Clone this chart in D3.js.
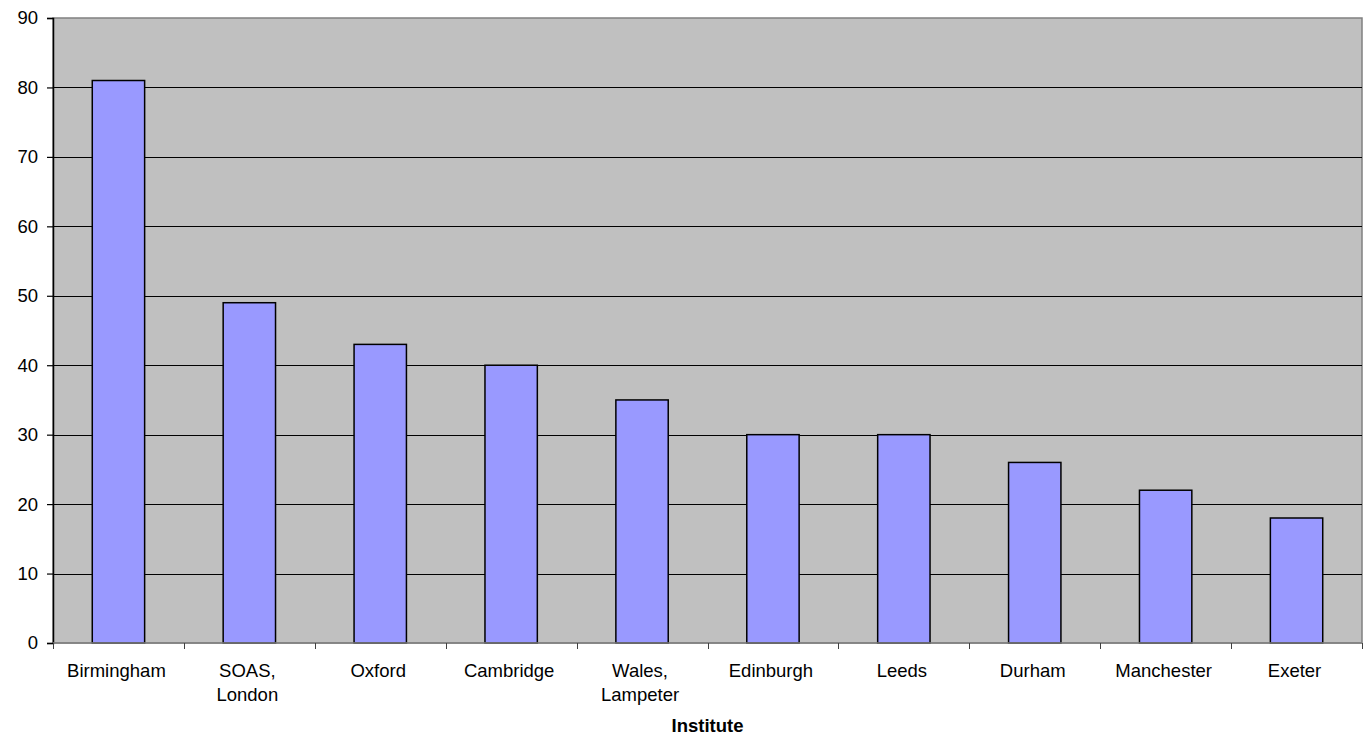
<!DOCTYPE html>
<html><head><meta charset="utf-8">
<script src="https://cdn.jsdelivr.net/npm/d3@7"></script>
<style>
html,body{margin:0;padding:0;background:#fff;}
text{font-family:"Liberation Sans",Arial,sans-serif;}
</style></head>
<body>
<svg id="chart" width="1364" height="743"></svg>
<script>
const categories = ["Birmingham","SOAS, London","Oxford","Cambridge","Wales, Lampeter","Edinburgh","Leeds","Durham","Manchester","Exeter"];
const values = [81,49,43,40,35,30,30,26,22,18];
const yTicks = [0,10,20,30,40,50,60,70,80,90];
const xTitle = "Institute";

const svg = d3.select("#chart");
const L = 53, R = 1362, T = 18, B = 643;
const x = d3.scaleBand().domain(categories).range([L, R]).paddingInner(0.6).paddingOuter(0.3);
const xb = d3.scaleBand().domain(categories).range([L, R]);
const y = d3.scaleLinear().domain([0, 90]).range([B, T]);

svg.append("rect").attr("x", L).attr("y", T).attr("width", R - L).attr("height", B - T)
  .attr("fill", "#c0c0c0").attr("stroke", "#808080").attr("stroke-width", 1.5);

// gridlines
svg.append("g").selectAll("line").data(yTicks.filter(d => d > 0 && d < 90)).join("line")
  .attr("x1", L).attr("x2", R).attr("y1", d => Math.round(y(d)) + 0.5).attr("y2", d => Math.round(y(d)) + 0.5)
  .attr("stroke", "#000").attr("stroke-width", 1);

// bars
svg.append("g").selectAll("rect").data(values).join("rect")
  .attr("x", (d, i) => x(categories[i]))
  .attr("width", x.bandwidth())
  .attr("y", d => y(d))
  .attr("height", d => B - y(d))
  .attr("fill", "#9999ff").attr("stroke", "#000").attr("stroke-width", 1.5);

// y axis
const yAxis = d3.axisLeft(y).tickValues(yTicks).tickSize(6).tickPadding(9);
const gy = svg.append("g").attr("transform", `translate(${L},0)`).call(yAxis);
gy.select(".domain").attr("stroke", "#000").attr("stroke-width", 1.5);
gy.selectAll(".tick line").attr("stroke", "#000").attr("stroke-width", 1.2);
gy.selectAll(".tick text").attr("font-size", "18.5px").attr("fill", "#000")
  .style("font-family", '"Liberation Sans",Arial,sans-serif');

// x axis line and ticks at band boundaries
svg.append("line").attr("x1", L).attr("x2", R).attr("y1", B).attr("y2", B)
  .attr("stroke", "#808080").attr("stroke-width", 1.5);
const bounds = categories.map(c => xb(c)).concat([R]);
svg.append("g").selectAll("line").data(bounds).join("line")
  .attr("x1", d => Math.round(d) + 0.5).attr("x2", d => Math.round(d) + 0.5)
  .attr("y1", B).attr("y2", B + 6).attr("stroke", "#404040").attr("stroke-width", 1);

// x labels
const lbl = svg.append("g").selectAll("text").data(categories).join("text")
  .attr("text-anchor", "middle").attr("font-size", "18.5px").attr("fill", "#000")
  .attr("x", d => xb(d) + xb.bandwidth() / 2).attr("y", 677);
lbl.each(function(d) {
  const parts = d.includes(", ") ? [d.split(", ")[0] + ",", d.split(", ")[1]] : [d];
  d3.select(this).selectAll("tspan").data(parts).join("tspan")
    .attr("x", xb(d) + xb.bandwidth() / 2 - 2).attr("dy", (p, i) => i ? 23.5 : 0).text(p => p);
});

svg.append("text").attr("x", (L + R) / 2).attr("y", 732).attr("text-anchor", "middle")
  .attr("font-size", "18.5px").attr("font-weight", "bold").attr("fill", "#000").text(xTitle);
</script>
</body></html>
